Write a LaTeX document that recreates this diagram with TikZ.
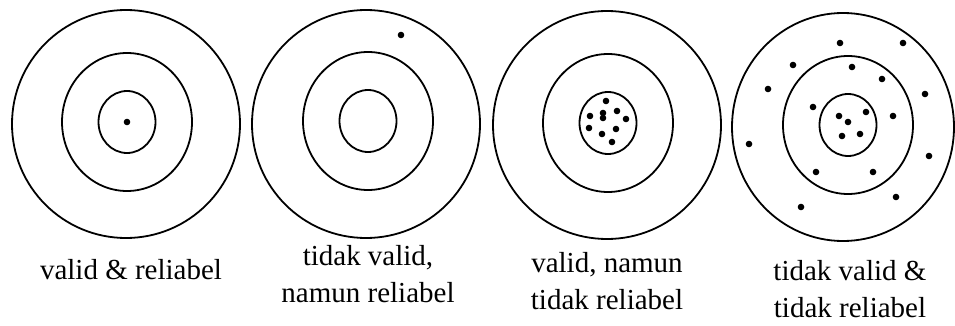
\documentclass[tikz,border=0pt]{standalone}
\usepackage{fontspec}
\setmainfont{Liberation Serif}
\usetikzlibrary{calc}

\begin{document}
\begin{tikzpicture}[x=1pt,y=-1pt]
  \tikzset{
    ring/.style={line width=1.8pt},
    hit/.style={fill=black},
    caption/.style={font=\fontsize{29}{37}\selectfont,align=center,inner sep=0pt}
  }
  \useasboundingbox (0,0) rectangle (955,326);
  % targets: outer centre / inner centre
  \foreach \ox/\oy/\ix/\iy/\r in {126/124/127/122/114, 366/124/368/121/114, 607/125/608/123/114, 843/127/848/125/111}{
    \draw[ring] (\ox,\oy) ellipse ({\r} and 114);
    \draw[ring] (\ix,\iy) ellipse (65 and 69);
    \draw[ring] (\ix,\iy) ellipse (28.5 and 31);
  }
  % hits
  \fill[hit] (127,122) circle (3.3);
  \fill[hit] (401,35) circle (3.3);
  \foreach \x/\y in {606/101, 590/116, 603/113, 603/118, 617/111, 626/119, 589/128, 602/134, 616/129, 612/142}
    \fill[hit] (\x,\y) circle (3.3);
  \foreach \x/\y in {840/43, 903/43, 793/65, 852/67, 882/79, 768/89, 925/94, 813/107, 866/112, 839/116,
                     848/122, 893/116, 842/136, 860/134, 749/144, 929/156, 816/172, 873/172, 896/197, 801/207}
    \fill[hit] (\x,\y) circle (3.3);
  % captions
  \node[caption] (cap1) at (131,270) {valid \& reliabel};
  \node[caption] (cap2) at (368,274) {tidak valid,\\namun reliabel};
  \node[caption] (cap3) at (607,281) {valid, namun\\tidak reliabel};
  \node[caption] (cap4) at (850,289) {tidak valid \&\\tidak reliabel};
\end{tikzpicture}
\end{document}
